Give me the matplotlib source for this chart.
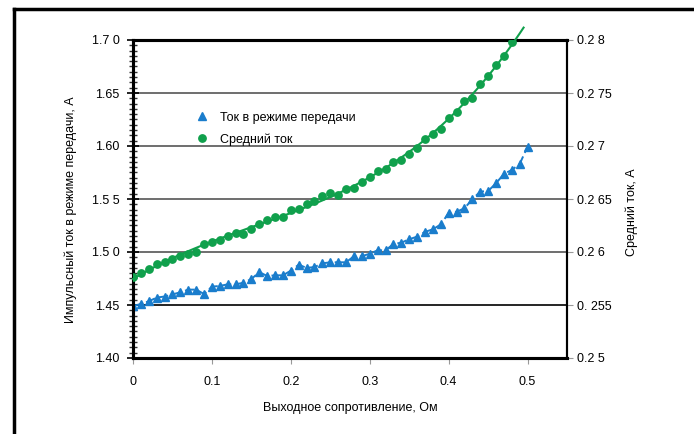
import numpy as np
import matplotlib.pyplot as plt
from matplotlib.lines import Line2D
from matplotlib.ticker import FixedLocator, FixedFormatter, MultipleLocator

plt.rcParams['font.family'] = ['Liberation Sans', 'DejaVu Sans']

# resistance, Ohm
r_pulse = [0.00, 0.01, 0.02, 0.03, 0.04, 0.05, 0.06, 0.07, 0.08, 0.09,
           0.10, 0.11, 0.12, 0.13, 0.14, 0.15, 0.16, 0.17, 0.18, 0.19,
           0.20, 0.21, 0.22, 0.23, 0.24, 0.25, 0.26, 0.27, 0.28, 0.29,
           0.30, 0.31, 0.32, 0.33, 0.34, 0.35, 0.36, 0.37, 0.38, 0.39,
           0.40, 0.41, 0.42, 0.43, 0.44, 0.45, 0.46, 0.47, 0.48, 0.49, 0.50]
# pulse current in transmit mode, A (left axis)
i_pulse = [1.449, 1.451, 1.4535, 1.457, 1.458, 1.460, 1.462, 1.4645, 1.4645, 1.4604,
           1.4673, 1.468, 1.4695, 1.4695, 1.471, 1.4745, 1.481, 1.4774, 1.478, 1.478,
           1.4824, 1.488, 1.485, 1.4858, 1.4893, 1.4903, 1.4903, 1.4903, 1.496, 1.496,
           1.4984, 1.5016, 1.5016, 1.5075, 1.5088, 1.512, 1.5145, 1.519, 1.5214, 1.526,
           1.5368, 1.538, 1.5412, 1.5497, 1.557, 1.5575, 1.5648, 1.5736, 1.5774, 1.583, 1.5993]

r_avg = r_pulse[:49]
# average current, A (right axis)
i_avg = [0.25767, 0.25799, 0.25843, 0.25884, 0.25906, 0.25931, 0.25965, 0.25981, 0.26000, 0.26073,
         0.26094, 0.26113, 0.26154, 0.26176, 0.26167, 0.26214, 0.26264, 0.26300, 0.26333, 0.26333,
         0.26393, 0.26406, 0.26457, 0.26482, 0.26533, 0.26553, 0.26535, 0.26595, 0.26607, 0.26658,
         0.26703, 0.26760, 0.26781, 0.26849, 0.26868, 0.26925, 0.26984, 0.27063, 0.27113, 0.27163,
         0.27261, 0.27318, 0.27427, 0.27456, 0.27585, 0.27663, 0.27761, 0.27849, 0.27978]

left_ticks = [1.40, 1.45, 1.50, 1.55, 1.60, 1.65, 1.70]
left_labels = ['1.40', '1.45', '1.5 0', '1.5 5', '1.60', '1.65', '1.7 0']
right_ticks = [0.25, 0.255, 0.26, 0.265, 0.27, 0.275, 0.28]
right_labels = ['0.2 5', '0. 255', '0.2 6', '0.2 65', '0.2 7', '0.2 75', '0.2 8']
x_ticks = [0, 0.1, 0.2, 0.3, 0.4, 0.5]
x_labels = ['0', '0.1', '0.2', '0.3', '0.4', '0.5']

blue = '#1a7dcc'
green = '#10a04c'
fs = 9

fig = plt.figure(figsize=(6.94, 4.34), dpi=100)
ax = fig.add_axes([133/694, 76/434, 434/694, 318/434])
ax2 = ax.twinx()

# outer frame (left and top only visible)
fig.add_artist(Line2D([14/694, 14/694], [0, 1 - 9/434], transform=fig.transFigure, color='black', lw=2.5))
fig.add_artist(Line2D([14/694, 1], [1 - 9/434, 1 - 9/434], transform=fig.transFigure, color='black', lw=2.5))

ax.set_xlim(0, 0.55)
ax.set_ylim(1.40, 1.70)
ax2.set_ylim(0.25, 0.28)

# gridlines
for t in left_ticks[1:-1]:
    ax.axhline(t, color='black' if t == 1.45 else '#555555', lw=1.2, zorder=0)

ax.plot(r_pulse, i_pulse, color=blue, lw=1.4, ls=(0, (5, 2)), zorder=3)
ax.plot(r_pulse, i_pulse, ls='none', marker='^', ms=5.5, color=blue, zorder=4)

coef = np.polyfit(r_avg, i_avg, 3)
xf = np.linspace(0, 0.495, 100)
ax2.plot(xf, np.polyval(coef, xf), color=green, lw=1.5, clip_on=False, zorder=3)
ax2.plot(r_avg, i_avg, ls='none', marker='o', ms=5.3, color=green, zorder=4)

ax.yaxis.set_major_locator(FixedLocator(left_ticks))
ax.yaxis.set_major_formatter(FixedFormatter(left_labels))
ax.yaxis.set_minor_locator(MultipleLocator(0.005))
ax.tick_params(axis='y', which='major', direction='inout', length=9, width=1.2, labelsize=fs, pad=5)
ax.tick_params(axis='y', which='minor', direction='inout', length=6, width=1, color='#333333')

ax.xaxis.set_major_locator(FixedLocator(x_ticks))
ax.xaxis.set_major_formatter(FixedFormatter(x_labels))
ax.tick_params(axis='x', direction='out', length=4, color='#999999', labelsize=fs, pad=9)

ax2.yaxis.set_major_locator(FixedLocator(right_ticks))
ax2.yaxis.set_major_formatter(FixedFormatter(right_labels))
ax2.tick_params(axis='y', direction='out', length=4, color='#999999', labelsize=fs, pad=3)

for a in (ax, ax2):
    a.spines['top'].set_linewidth(2.2)
    a.spines['left'].set_linewidth(2.2)
    a.spines['bottom'].set_linewidth(2.2)
    a.spines['right'].set_linewidth(1.5)

ax.set_xlabel('Выходное сопротивление, Ом', fontsize=fs, labelpad=10)
ax.set_ylabel('Импульсный ток в режиме передачи, А', fontsize=fs)
ax.yaxis.set_label_coords(-0.128, 0.465)
ax2.set_ylabel('Средний ток, А', fontsize=fs)
ax2.yaxis.set_label_coords(1.135, 0.46)

handles = [Line2D([], [], ls='none', marker='^', ms=5.5, color=blue),
           Line2D([], [], ls='none', marker='o', ms=5.3, color=green)]
ax.legend(handles, ['Ток в режиме передачи', 'Средний ток'], loc='upper left',
          bbox_to_anchor=(0.105, 0.81), frameon=False, fontsize=fs,
          handletextpad=0.4, labelspacing=0.75)

fig.savefig('out.png', dpi=100)
